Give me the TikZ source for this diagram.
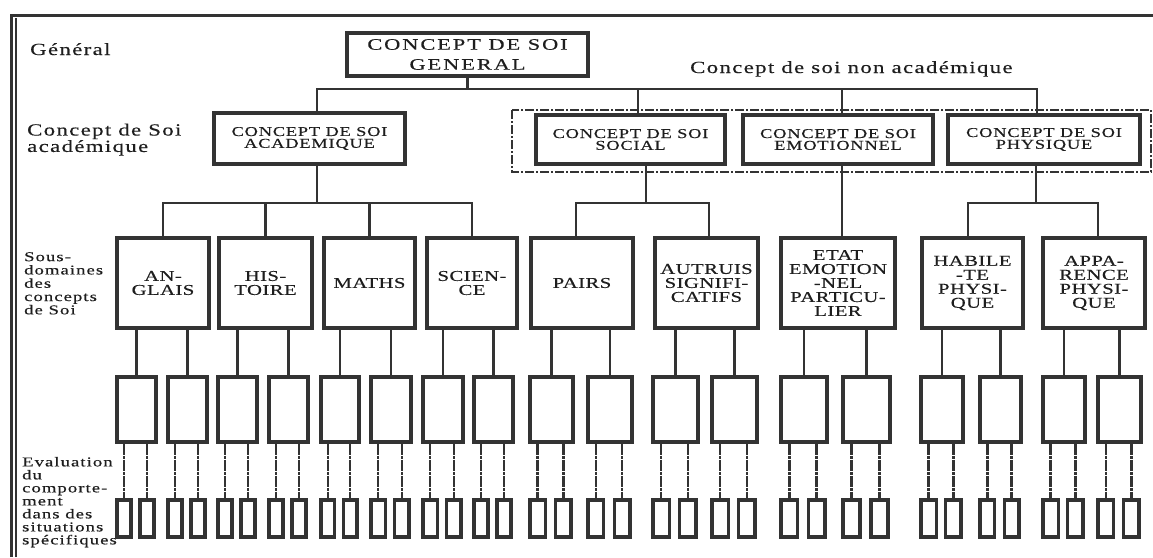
\documentclass[tikz,border=0pt]{standalone}
\usepackage{fontspec}
\setmainfont{Liberation Serif}
\newfontfamily\lblfont[FakeStretch=1.34,LetterSpace=8,FakeBold=0.3]{Liberation Serif}
\newfontfamily\smlfont[FakeStretch=1.38,LetterSpace=8,FakeBold=0.3]{Liberation Serif}
\newfontfamily\topfont[FakeStretch=1.4,LetterSpace=12,FakeBold=0.3]{Liberation Serif}
\newfontfamily\boxfont[FakeStretch=1.36,LetterSpace=6,FakeBold=0.3]{Liberation Serif}
\newfontfamily\subfont[FakeStretch=1.38,LetterSpace=3,FakeBold=0.3]{Liberation Serif}
\definecolor{ink}{HTML}{333333}
\definecolor{txt}{HTML}{1E1E1E}
\begin{document}
\begin{tikzpicture}[x=1pt,y=-1pt,
  box/.style={draw=ink, line width=3.2pt, inner sep=0pt, text=txt, align=center},
  conn/.style={draw=ink, line width=2.6pt},
  dconn/.style={draw=ink, line width=2.5pt, dash pattern=on 11pt off 1pt on 3pt off 1pt},
  lbl/.style={inner sep=0pt, text=txt, font={\lblfont\fontsize{17}{14.5}\selectfont}},
  sml/.style={inner sep=0pt, text=txt, font={\smlfont\fontsize{13.5}{13.3}\selectfont}},
  lvltwo/.style={box, minimum width=190pt, minimum height=49pt, font={\boxfont\fontsize{13.5}{11.8}\selectfont}},
  lvlthree/.style={box, minimum height=90pt, font={\subfont\fontsize{15}{14}\selectfont}}]
\fill[white] (0,0) rectangle (1153,557);
\useasboundingbox (0,0) rectangle (1153,557);
% frame
\draw[ink, line width=3pt] (11,557) -- (11,15) -- (1153,15);
\draw[ink, line width=2.5pt] (16,557) -- (16,17.5);
% left labels
\node[lbl, anchor=base west] (lgen) at (30,55) {Général};
\node[lbl, anchor=north west, align=left] (lacad) at (27,123.5) {Concept de Soi\\académique};
\node[lbl, anchor=base west] (lnon) at (690,73) {Concept de soi non académique};
\node[sml, anchor=north west, align=left] (lsous) at (24,252) {Sous-\\domaines\\des\\concepts\\de Soi};
\node[sml, anchor=north west, align=left, font={\smlfont\fontsize{13.5}{13}\selectfont}] (leval) at (22,456.8) {Evaluation\\du\\comporte-\\ment\\dans des\\situations\\spécifiques};
% dash-dot group frame
\draw[ink, line width=1.8pt, dash pattern=on 9pt off 2pt on 2pt off 2pt] (512,110) rectangle (1151,172);
% top
\node[box, minimum width=241pt, minimum height=43pt, font={\topfont\fontsize{16}{20}\selectfont}] (gen) at (467.5,54.5) {CONCEPT DE SOI\\GENERAL};
% level 2
\node[lvltwo, minimum width=191pt, minimum height=51pt] (acad) at (309.5,138.5) {CONCEPT DE SOI\\ACADEMIQUE};
\node[lvltwo, minimum width=189pt] (social) at (630.5,139.5) {CONCEPT DE SOI\\SOCIAL};
\node[lvltwo] (emo) at (838,139.5) {CONCEPT DE SOI\\EMOTIONNEL};
\node[lvltwo, minimum width=192pt] (phys) at (1044,139.5) {CONCEPT DE SOI\\PHYSIQUE};
% level 3
\node[lvlthree, minimum width=92pt] (ang) at (163,283) {AN-\\GLAIS};
\node[lvlthree, minimum width=93pt] (his) at (265.5,283) {HIS-\\TOIRE};
\node[lvlthree, minimum width=91pt] (mat) at (369.5,283) {MATHS};
\node[lvlthree, minimum width=90pt] (sci) at (472,283) {SCIEN-\\CE};
\node[lvlthree, minimum width=102pt] (pai) at (582,283) {PAIRS};
\node[lvlthree, minimum width=103pt] (aut) at (706.5,283) {AUTRUIS\\SIGNIFI-\\CATIFS};
\node[lvlthree, minimum width=114pt] (eta) at (838,283) {ETAT\\EMOTION\\-NEL\\PARTICU-\\LIER};
\node[lvlthree, minimum width=101pt] (hab) at (972.5,283) {HABILE\\-TE\\PHYSI-\\QUE};
\node[lvlthree, minimum width=102pt] (app) at (1094,283) {APPA-\\RENCE\\PHYSI-\\QUE};
% connectors top -> level 2
\coordinate (busa) at (0,89);
\draw[conn] (gen.south) -- (gen.south |- busa);
\draw[conn] ([xshift=7.5pt]acad.north) -- ([xshift=7.5pt]acad.north |- busa) -- ([xshift=-7pt]phys.north |- busa) -- ([xshift=-7pt]phys.north);
\draw[conn] ([xshift=7.5pt]social.north) -- ([xshift=7.5pt]social.north |- busa);
\draw[conn] ([xshift=4pt]emo.north) -- ([xshift=4pt]emo.north |- busa);
% connectors level 2 -> level 3
\coordinate (busb) at (0,203);
\draw[conn] ([xshift=7.5pt]acad.south) -- ([xshift=7.5pt]acad.south |- busb);
\draw[conn] (ang.north) -- (ang.north |- busb) -- (sci.north |- busb) -- (sci.north);
\draw[conn] (his.north) -- (his.north |- busb);
\draw[conn] (mat.north) -- (mat.north |- busb);
\draw[conn] ([xshift=15.5pt]social.south) -- ([xshift=15.5pt]social.south |- busb);
\draw[conn] ([xshift=-6pt]pai.north) -- ([xshift=-6pt]pai.north |- busb) -- ([xshift=2.5pt]aut.north |- busb) -- ([xshift=2.5pt]aut.north);
\draw[conn] ([xshift=4pt]emo.south) -- ([xshift=4pt]eta.north);
\draw[conn] ([xshift=-8pt]phys.south) -- ([xshift=-8pt]phys.south |- busb);
\draw[conn] ([xshift=-4.5pt]hab.north) -- ([xshift=-4.5pt]hab.north |- busb) -- ([xshift=4pt]app.north |- busb) -- ([xshift=4pt]app.north);
% level 4 and 5
\foreach \i/\a/\b/\p in {1/117/156/ang,2/168/207/ang,3/218/257/his,4/269/308/his,5/321/359/mat,6/371/411/mat,7/423/463/sci,8/474/513/sci,9/530/573/pai,10/588/632/pai,11/653/698/aut,12/712/757/aut,13/781/827/eta,14/843/890/eta,15/921/963/hab,16/980/1021/hab,17/1043/1085/app,18/1098/1141/app}{
  \pgfmathsetmacro\w{\b-\a}
  \pgfmathsetmacro\c{(\a+\b)/2}
  \pgfmathsetmacro\s{0.36*\w}
  \pgfmathsetmacro\la{\a+\s/2}
  \pgfmathsetmacro\rb{\b-2-\s/2}
  \node[box, minimum width=\w pt, minimum height=65pt] (m\i) at (\c,409.5) {};
  \node[box, minimum width=\s pt, minimum height=37pt] (sa\i) at (\la,518.5) {};
  \node[box, minimum width=\s pt, minimum height=37pt] (sb\i) at (\rb,518.5) {};
  \draw[conn] (\p.south -| m\i.north) -- (m\i.north);
  \draw[dconn] (m\i.south -| sa\i.north) -- (sa\i.north);
  \draw[dconn] (m\i.south -| sb\i.north) -- (sb\i.north);
}
\end{tikzpicture}
\end{document}
